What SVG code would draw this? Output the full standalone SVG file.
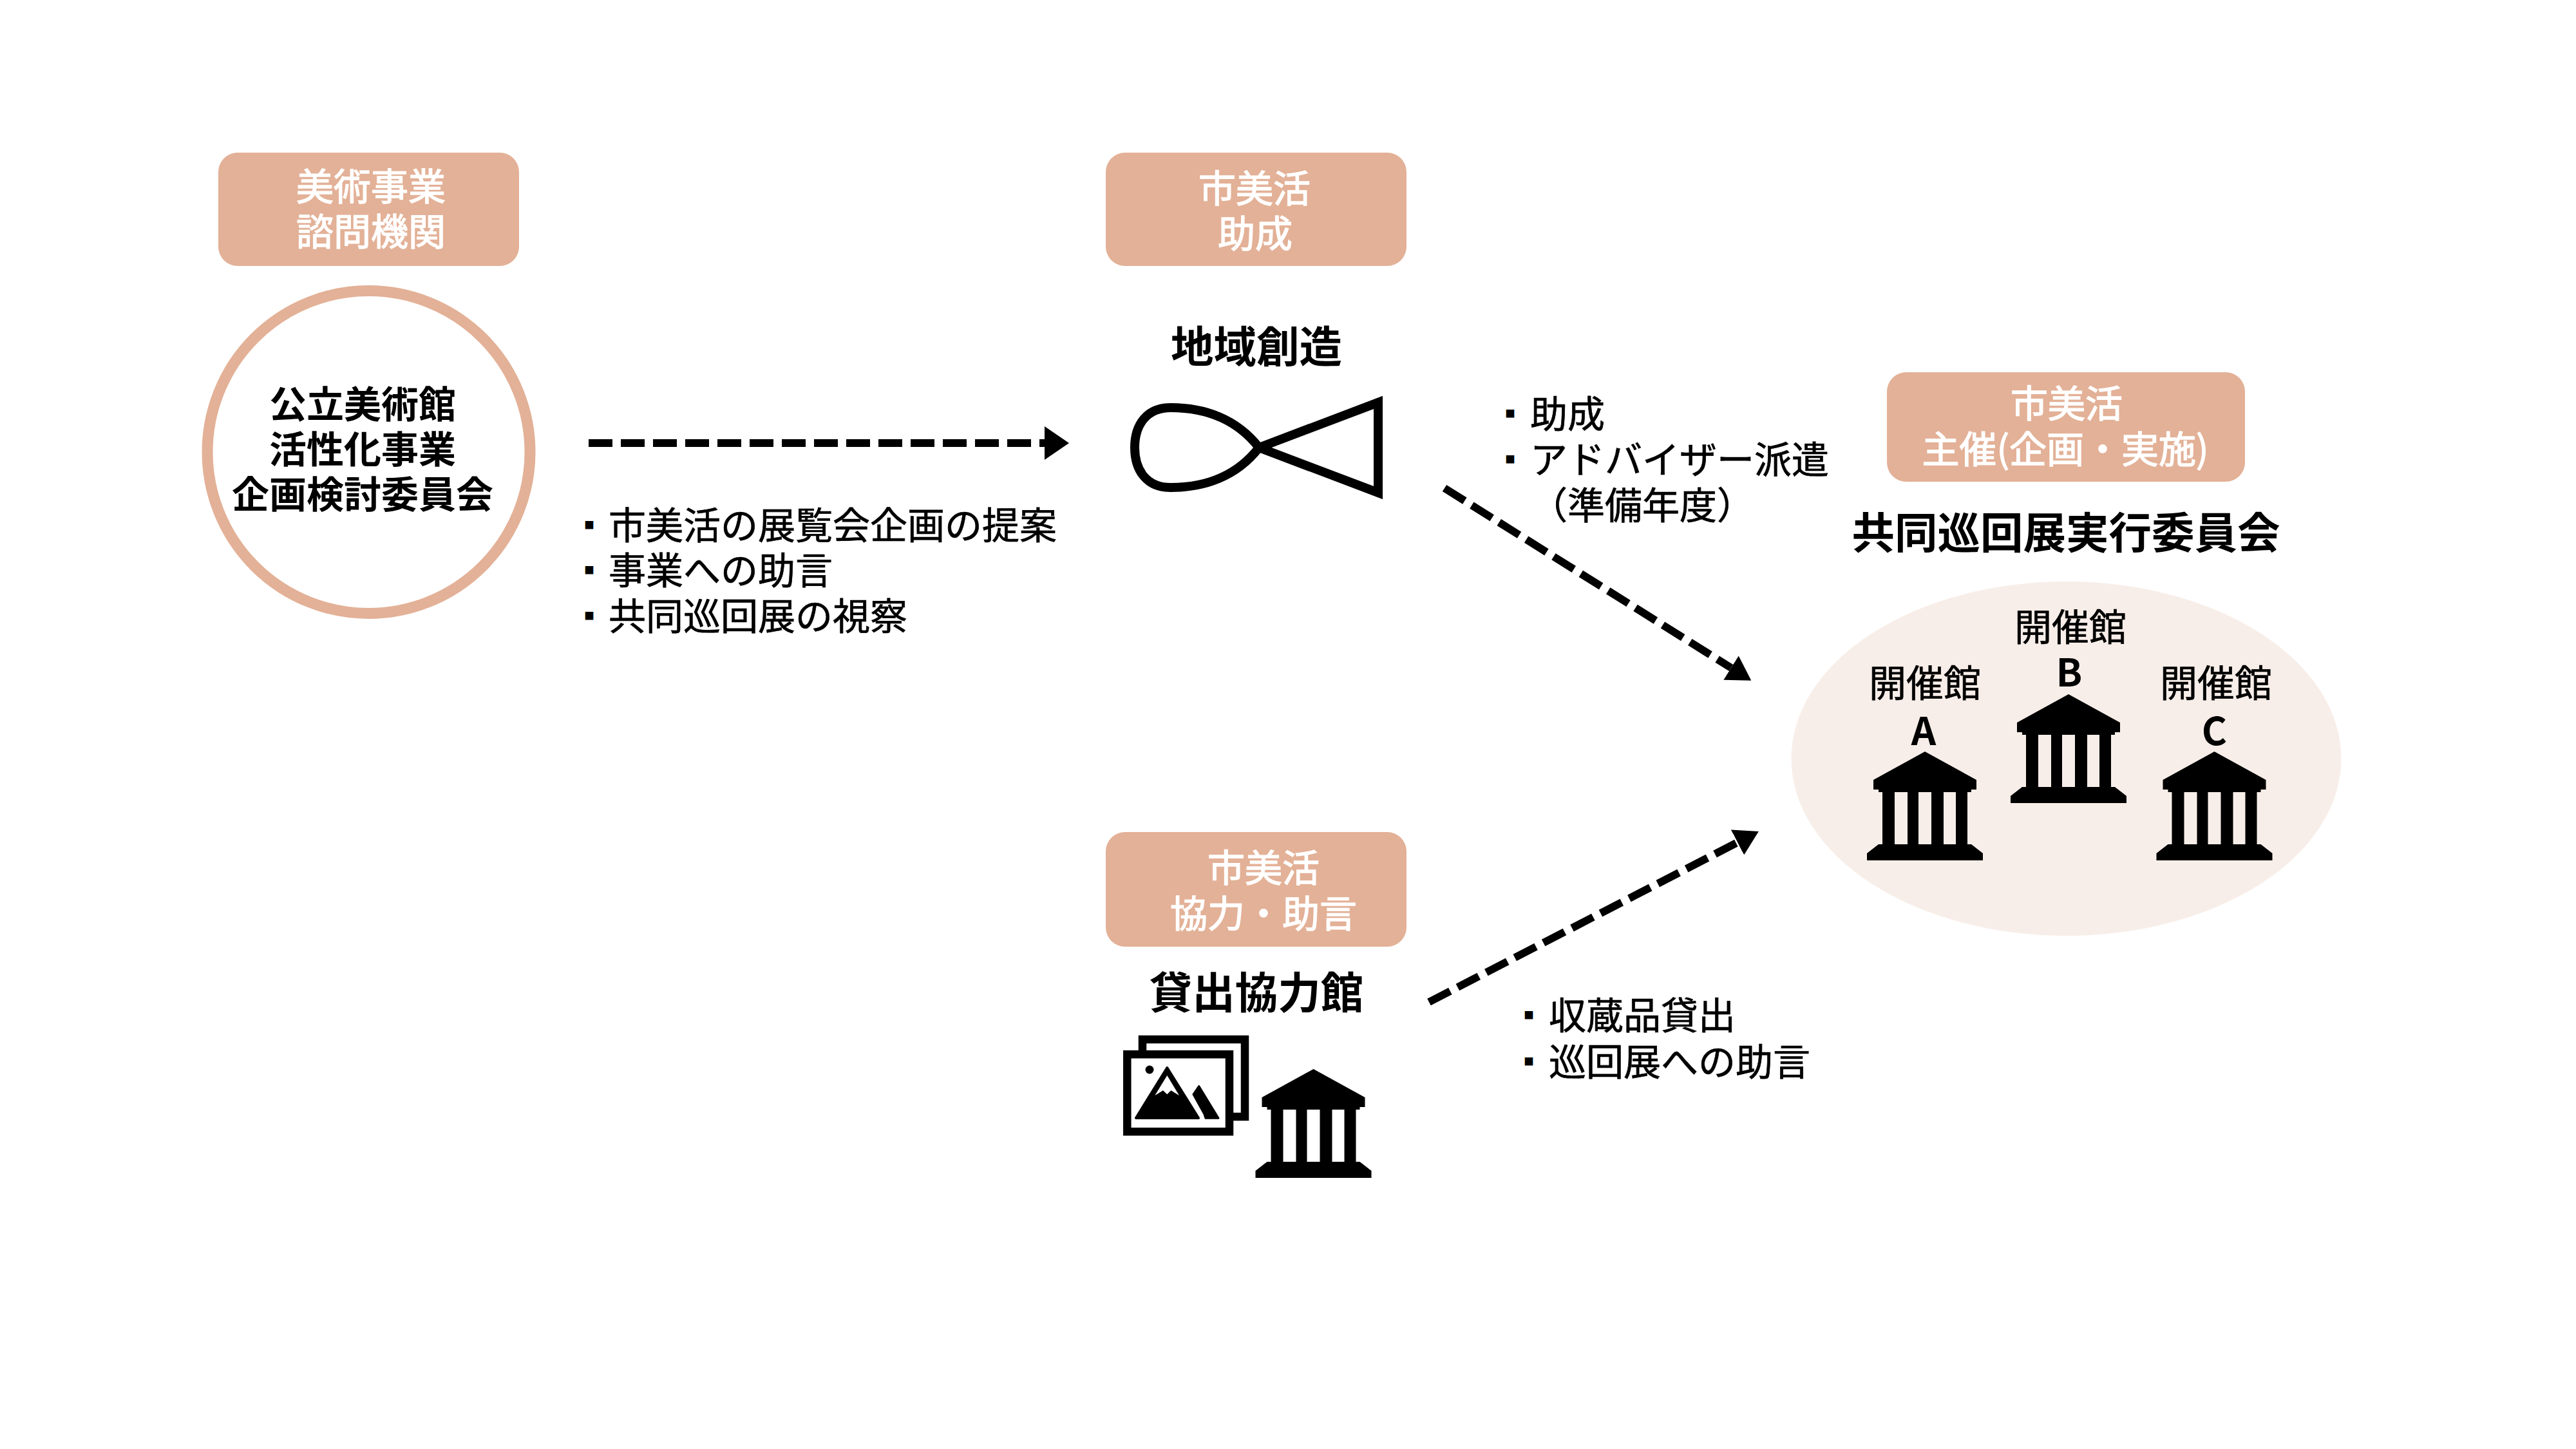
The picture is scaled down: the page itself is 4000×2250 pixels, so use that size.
<svg xmlns="http://www.w3.org/2000/svg" width="4000" height="2250" viewBox="0 0 4000 2250">
<style>
text{font-family:"Noto Sans CJK JP","Noto Sans",sans-serif;font-size:58px;fill:#000;stroke:#000;stroke-width:.7px}
.c{text-anchor:middle}
.w{fill:#fff;stroke:#fff;stroke-width:1.4px}
.b{font-weight:700;stroke:none}
.t{font-size:66.5px;font-weight:700;stroke:none}
.l{font-size:60px;font-weight:700;stroke:none}
.u{font-size:46px;stroke:none}
.box{fill:#e3b197}
.dash{fill:none;stroke:#000;stroke-width:12;stroke-dasharray:37 13}
</style>
<defs>
<path id="bldg" fill-rule="evenodd" d="M0 0L80 44V59H72V63H66V144H72L90 158V169H-90V158L-72 144H-66V63H-72V59H-80V44ZM-47 63V144H-27V63ZM-10 63V144H10V63ZM29 63V144H48V63Z"/>
<marker id="head" markerUnits="userSpaceOnUse" markerWidth="37" markerHeight="44" refX="0" refY="22" orient="auto" viewBox="0 0 37 44"><path d="M0 0L37 22L0 44Z"/></marker>
<marker id="headw" markerUnits="userSpaceOnUse" markerWidth="38" markerHeight="52" refX="0" refY="26" orient="auto" viewBox="0 0 38 52"><path d="M0 0L38 26L0 52Z"/></marker>
</defs>
<rect width="4000" height="2250" fill="#fff"/>
<g id="connectors">
<path class="dash" d="M914 688H1622" marker-end="url(#headw)"/>
<path class="dash" d="M2243 758L2688 1037" marker-end="url(#head)"/>
<path class="dash" d="M2219 1556L2698 1308" marker-end="url(#head)"/>
</g>
<g id="advisory">
<rect class="box" x="339" y="237" width="467" height="176" rx="30"/>
<text class="c w" x="576" y="311">美術事業</text>
<text class="c w" x="576" y="381">諮問機関</text>
<circle cx="572.5" cy="702" r="250.5" fill="#fff" stroke="#e3b197" stroke-width="17"/>
<text class="c b" x="563" y="649">公立美術館</text>
<text class="c b" x="563" y="719">活性化事業</text>
<text class="c b" x="563" y="789">企画検討委員会</text>
</g>
<g id="advice-list">
<text class="u" x="892" y="832">▪</text><text x="945" y="837">市美活の展覧会企画の提案</text>
<text class="u" x="892" y="902">▪</text><text x="945" y="907">事業への助言</text>
<text class="u" x="892" y="973">▪</text><text x="945" y="978">共同巡回展の視察</text>
</g>
<g id="regional">
<rect class="box" x="1717" y="237" width="467" height="176" rx="30"/>
<text class="c w" x="1948" y="314">市美活</text>
<text class="c w" x="1949" y="384">助成</text>
<text class="c t" x="1951" y="563">地域創造</text>
<path fill="none" stroke="#000" stroke-width="14" stroke-miterlimit="10" d="M1955 695C1920 650 1870 633 1818 633C1780 633 1762 660 1762 695C1762 730 1780 757 1818 757C1870 757 1920 740 1955 695L2140 625V765L1955 695"/>
</g>
<g id="grant-list">
<text class="u" x="2322" y="659">▪</text><text x="2376" y="664">助成</text>
<text class="u" x="2322" y="730">▪</text><text x="2376" y="735">アドバイザー派遣</text>
<text x="2376" y="806">（準備年度）</text>
</g>
<g id="committee">
<rect class="box" x="2930" y="578" width="556" height="170" rx="30"/>
<text class="c w" x="3209" y="648">市美活</text>
<text class="c w" x="3207" y="719">主催(企画・実施)</text>
<text class="c t" x="3208" y="852">共同巡回展実行委員会</text>
<ellipse cx="3208.5" cy="1178" rx="427" ry="275" fill="#f8eee9"/>
</g>
<g id="venue-a">
<text class="c" x="2989" y="1082">開催館</text>
<text class="c l" x="2987" y="1157">A</text>
<use href="#bldg" x="2989" y="1167"/>
</g>
<g id="venue-b">
<text class="c" x="3215" y="995">開催館</text>
<text class="c l" x="3213" y="1066">B</text>
<use href="#bldg" x="3212" y="1078"/>
</g>
<g id="venue-c">
<text class="c" x="3441" y="1082">開催館</text>
<text class="c l" x="3438.5" y="1157">C</text>
<use href="#bldg" x="3438.5" y="1167"/>
</g>
<g id="lender">
<rect class="box" x="1717" y="1292" width="467" height="178" rx="30"/>
<text class="c w" x="1962" y="1369">市美活</text>
<text class="c w" x="1962" y="1440">協力・助言</text>
<text class="c t" x="1951" y="1566">貸出協力館</text>
<rect x="1774" y="1614" width="159" height="120" fill="#fff" stroke="#000" stroke-width="12.5"/>
<rect x="1750.3" y="1637.2" width="158.7" height="120" fill="#fff" stroke="#000" stroke-width="12.5"/>
<circle cx="1785" cy="1661" r="6.5"/>
<path stroke="#000" stroke-width="4" stroke-linejoin="round" d="M1812.3 1658L1861 1736H1764Z"/>
<path fill="#fff" d="M1812.3 1670L1831 1701L1818.3 1693.3L1812.3 1699.3L1806 1693.3L1793.3 1701Z"/>
<path stroke="#000" stroke-width="3" stroke-linejoin="round" d="M1853 1699.3L1861.7 1686.5L1892 1736.2H1872L1870 1730Z"/>
<use href="#bldg" x="2039.5" y="1660"/>
</g>
<g id="lend-list">
<text class="u" x="2351" y="1593">▪</text><text x="2405" y="1598">収蔵品貸出</text>
<text class="u" x="2351" y="1665">▪</text><text x="2405" y="1670">巡回展への助言</text>
</g>
</svg>
